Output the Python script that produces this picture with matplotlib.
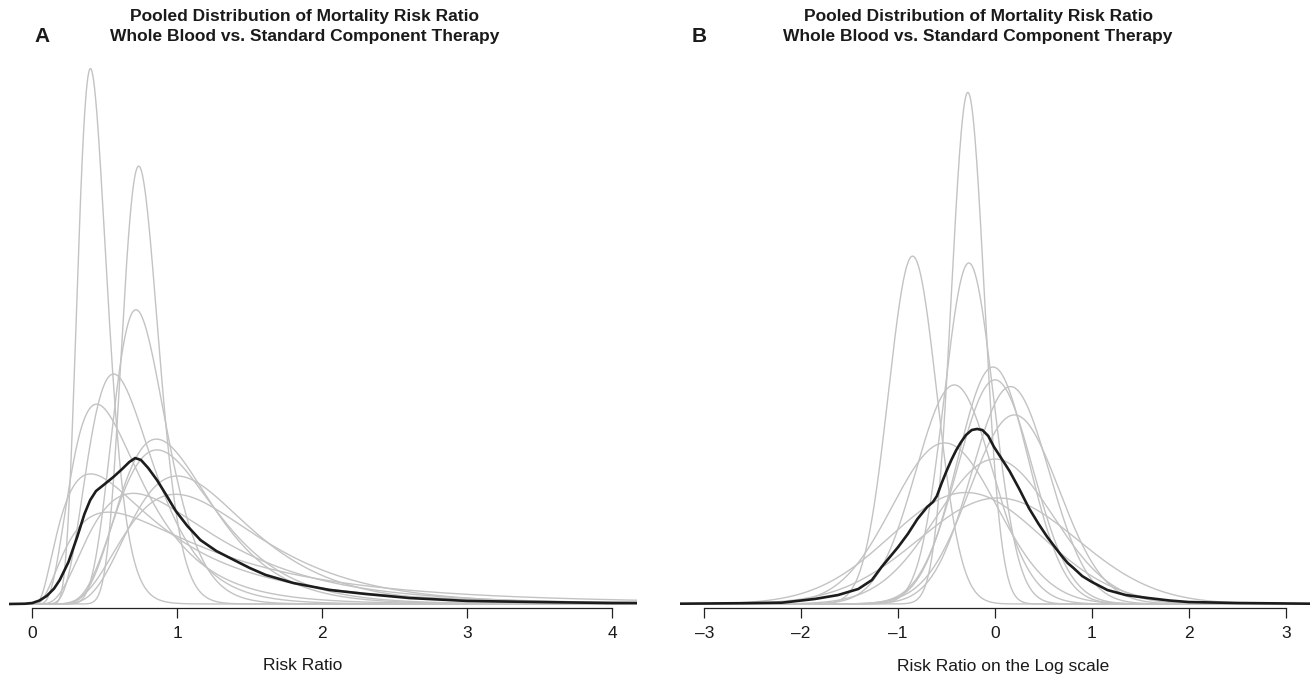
import numpy as np
import matplotlib
matplotlib.use("Agg")
import matplotlib.pyplot as plt

# ---- data ----
# per-study posterior of log risk ratio (normal approx): location and spread
study_mu = [-0.28, -0.85, -0.27, -0.02, 0.00, -0.42, 0.16, 0.20, -0.52, 0.00, -0.30, 0.03]
study_sd = [0.17, 0.25, 0.255, 0.367, 0.388, 0.397, 0.40, 0.46, 0.54, 0.60, 0.78, 0.82]

# pooled density, risk-ratio scale (panel A)
pooled_rr = [-0.16, -0.05, 0.0, 0.05, 0.10, 0.15, 0.19, 0.25, 0.31, 0.36, 0.40, 0.44,
             0.50, 0.56, 0.62, 0.67, 0.71, 0.75, 0.80, 0.86, 0.92, 0.99, 1.07, 1.16,
             1.27, 1.39, 1.50, 1.61, 1.80, 2.05, 2.30, 2.60, 3.00, 3.50, 4.00, 4.17]
pooled_rr_dens = [0.0, 0.002, 0.007, 0.025, 0.058, 0.110, 0.173, 0.302, 0.482, 0.647,
                  0.748, 0.813, 0.863, 0.914, 0.971, 1.022, 1.050, 1.036, 0.978, 0.892,
                  0.791, 0.669, 0.561, 0.460, 0.381, 0.317, 0.259, 0.209, 0.151, 0.101,
                  0.072, 0.043, 0.022, 0.014, 0.007, 0.007]

# pooled density, log risk-ratio scale (panel B)
pooled_log = [-3.25, -2.6, -2.2, -1.86, -1.62, -1.41, -1.27, -1.17, -1.0, -0.9, -0.8,
              -0.7, -0.64, -0.6, -0.55, -0.5, -0.45, -0.4, -0.35, -0.3, -0.24, -0.185,
              -0.13, -0.07, -0.01, 0.05, 0.15, 0.25, 0.35, 0.45, 0.54, 0.61, 0.68, 0.75,
              0.81, 0.9, 1.0, 1.16, 1.35, 1.57, 1.8, 2.0, 2.5, 3.25]
pooled_log_dens = [0.0014, 0.0037, 0.006, 0.023, 0.041, 0.069, 0.110, 0.170, 0.261, 0.321,
                   0.390, 0.445, 0.468, 0.495, 0.555, 0.610, 0.661, 0.706, 0.743, 0.775,
                   0.798, 0.803, 0.798, 0.771, 0.720, 0.679, 0.610, 0.528, 0.440, 0.367,
                   0.307, 0.266, 0.225, 0.188, 0.165, 0.128, 0.101, 0.064, 0.041, 0.028,
                   0.016, 0.009, 0.0046, 0.0014]

ticks_A = [0, 1, 2, 3, 4]
ticks_B = [-3, -2, -1, 0, 1, 2, 3]
title_lines = "Pooled Distribution of Mortality Risk Ratio\nWhole Blood vs. Standard Component Therapy"
xlabel_A = "Risk Ratio"
xlabel_B = "Risk Ratio on the Log scale"

GRAY = "#c3c3c3"
BLACK = "#1c1c1c"
W, H = 1312, 675

fig = plt.figure(figsize=(W / 100, H / 100), dpi=100)
bottom_px, top_px = 608, 50
axA = fig.add_axes([9 / W, (H - bottom_px) / H, 628 / W, (bottom_px - top_px) / H])
axB = fig.add_axes([680 / W, (H - bottom_px) / H, 630 / W, (bottom_px - top_px) / H])

# panel A: risk-ratio scale (log-normal densities)
xa = np.linspace(-0.16, 4.17, 1500)
for mu, sd in zip(study_mu, study_sd):
    r = np.where(xa > 0, xa, np.nan)
    d = np.exp(-0.5 * ((np.log(r) - mu) / sd) ** 2) / (r * sd * np.sqrt(2 * np.pi))
    d = np.nan_to_num(d, nan=0.0)
    axA.plot(xa, d, color=GRAY, lw=1.0, solid_joinstyle="round")
axA.plot(pooled_rr, pooled_rr_dens, color=BLACK, lw=1.9, solid_joinstyle="round")

# panel B: log scale (normal densities)
xb = np.linspace(-3.25, 3.25, 1500)
for mu, sd in zip(study_mu, study_sd):
    d = np.exp(-0.5 * ((xb - mu) / sd) ** 2) / (sd * np.sqrt(2 * np.pi))
    axB.plot(xb, d, color=GRAY, lw=1.0, solid_joinstyle="round")
axB.plot(pooled_log, pooled_log_dens, color=BLACK, lw=1.9, solid_joinstyle="round")

ax_h = bottom_px - top_px
for ax, scale, xlim, ticks in [(axA, 139.0, (-0.16, 4.17), ticks_A),
                                (axB, 218.0, (-3.25, 3.25), ticks_B)]:
    lo = -4.0 / scale
    ax.set_ylim(lo, lo + ax_h / scale)
    ax.set_xlim(*xlim)
    for s in ["top", "right", "left"]:
        ax.spines[s].set_visible(False)
    ax.spines["bottom"].set_bounds(ticks[0], ticks[-1])
    ax.spines["bottom"].set_linewidth(0.9)
    ax.spines["bottom"].set_color("#222222")
    ax.set_yticks([])
    ax.set_xticks(ticks)
    ax.set_xticklabels([str(t).replace("-", "\u2013") for t in ticks], family="Liberation Sans")
    ax.tick_params(axis="x", length=7.2, width=0.9, color="#222222", pad=5.5,
                   labelsize=12.5, labelcolor="#1a1a1a")
    ax.patch.set_alpha(0)

tfam = ["Liberation Sans Narrow", "Liberation Sans"]
for cx in (305, 978):
    fig.text(cx / W, 1 - 17 / H, title_lines.split("\n")[0], ha="center", va="center",
             fontsize=12.5, fontweight="bold", family=tfam, color="#1a1a1a")
    fig.text(cx / W, 1 - 36 / H, title_lines.split("\n")[1], ha="center", va="center",
             fontsize=12.5, fontweight="bold", family=tfam, color="#1a1a1a")
fig.text(42 / W, 1 - 37 / H, "A", ha="center", va="center", fontsize=15,
         fontweight="bold", family="Liberation Sans", color="#1a1a1a")
fig.text(699 / W, 1 - 37 / H, "B", ha="center", va="center", fontsize=15,
         fontweight="bold", family="Liberation Sans", color="#1a1a1a")
fig.text(303 / W, 1 - 666 / H, xlabel_A, ha="center", va="center", fontsize=12.5,
         family="Liberation Sans", color="#1a1a1a")
fig.text(1003 / W, 1 - 666 / H, xlabel_B, ha="center", va="center", fontsize=12.5,
         family="Liberation Sans", color="#1a1a1a")

fig.savefig("out.png", dpi=100, facecolor="white")
